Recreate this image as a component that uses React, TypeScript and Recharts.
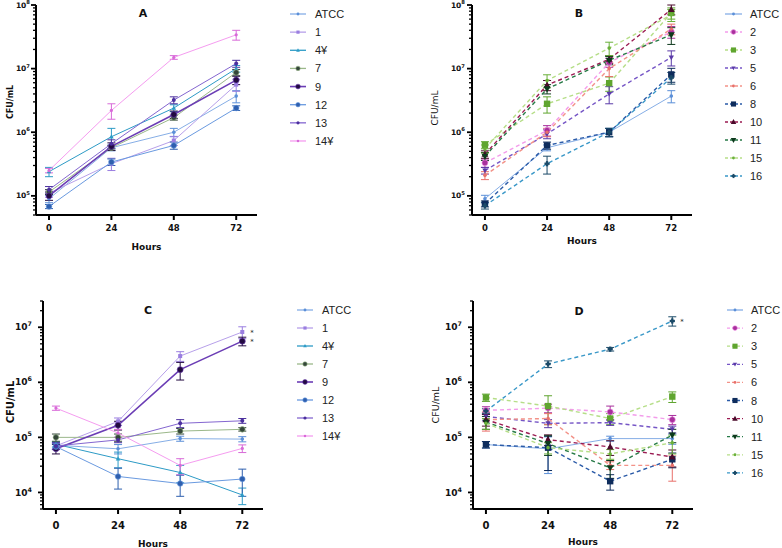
import React from 'react';
import { LineChart, Line, XAxis, YAxis, ErrorBar } from 'recharts';

const hours = [0, 24, 48, 72];

const strainsAC = ['ATCC', '1', '4¥', '7', '9', '12', '13', '14¥'];
const strainsBD = ['ATCC', '2', '3', '5', '6', '8', '10', '11', '15', '16'];

// CFU/mL at 0, 24, 48, 72 h, rows follow strainsAC / strainsBD
const cfuA = [
  [9.0e4, 5.7e5, 1.0e6, 3.7e6],
  [1.1e5, 3.2e5, 7.4e5, 5.6e6],
  [2.4e5, 8.5e5, 2.4e6, 1.0e7],
  [1.15e5, 5.7e5, 1.7e6, 8.7e6],
  [1.0e5, 6.0e5, 1.9e6, 6.6e6],
  [6.8e4, 3.4e5, 6.2e5, 2.4e6],
  [1.25e5, 6.6e5, 3.2e6, 1.2e7],
  [2.5e5, 2.2e6, 1.5e7, 3.4e7],
];
const sdA = [
  [1.2e4, 6e4, 1.5e5, 8e5],
  [1.5e4, 7e4, 1.2e5, 1.2e6],
  [4e4, 3e5, 3e5, 1.2e6],
  [1e4, 5e4, 1.5e5, 1e6],
  [1.5e4, 8e4, 2.5e5, 1e6],
  [5e3, 4e4, 8e4, 2e5],
  [1.5e4, 1e5, 4e5, 1.5e6],
  [2e4, 6e5, 1e6, 6e6],
];

const cfuB = [
  [9.0e4, 5.7e5, 1.0e6, 3.7e6],
  [3.3e5, 1.07e6, 1.25e7, 3.8e7],
  [6.3e5, 2.8e6, 5.9e6, 7.5e7],
  [2.5e5, 9.4e5, 4.0e6, 1.5e7],
  [2.1e5, 1.0e6, 1.0e7, 4.2e7],
  [7.5e4, 6.2e5, 1.0e6, 8.1e6],
  [4.5e5, 5.5e6, 1.4e7, 8.5e7],
  [4.2e5, 4.8e6, 1.35e7, 3.4e7],
  [5.5e5, 6.5e6, 2.1e7, 7.0e7],
  [7.0e4, 3.2e5, 1.0e6, 7.2e6],
];
const sdB = [
  [1.2e4, 6e4, 1.5e5, 8e5],
  [5e4, 2e5, 2e6, 8e6],
  [8e4, 8e5, 1.5e6, 1.5e7],
  [3e4, 1.5e5, 1.2e6, 4e6],
  [3e4, 1.5e5, 2.5e6, 8e6],
  [8e3, 8e4, 1.5e5, 2e6],
  [6e4, 1e6, 2e6, 1.5e7],
  [6e4, 8e5, 2e6, 1e7],
  [8e4, 1.5e6, 5e6, 1.5e7],
  [8e3, 1e5, 1.5e5, 1.5e6],
];

const cfuC = [
  [7.2e4, 6.2e4, 9.5e4, 9.3e4],
  [7.0e4, 1.95e5, 3.0e6, 8.2e6],
  [7.5e4, 4.1e4, 2.3e4, 9.0e3],
  [1.0e5, 1.0e5, 1.3e5, 1.4e5],
  [6.2e4, 1.66e5, 1.7e6, 5.6e6],
  [6.8e4, 1.95e4, 1.45e4, 1.75e4],
  [7.0e4, 9.0e4, 1.8e5, 2.0e5],
  [3.4e5, 1.2e5, 3.1e4, 6.3e4],
];
const sdC = [
  [8e3, 1.2e4, 1e4, 1e4],
  [8e3, 3e4, 6e5, 2e6],
  [8e3, 1.3e4, 8e3, 3e3],
  [1.5e4, 1.5e4, 1.5e4, 1e4],
  [1.2e4, 3e4, 6e5, 1e6],
  [8e3, 8e3, 6e3, 9e3],
  [1e4, 1e4, 3e4, 2e4],
  [3e4, 2e4, 1e4, 1e4],
];

const cfuD = [
  [7.4e4, 6.2e4, 9.5e4, 9.5e4],
  [3.1e5, 3.4e5, 2.9e5, 2.1e5],
  [5.3e5, 3.7e5, 2.2e5, 5.5e5],
  [2.4e5, 1.8e5, 1.85e5, 1.4e5],
  [2.1e5, 2.2e5, 3.1e4, 3.1e4],
  [7.4e4, 6.5e4, 1.6e4, 4.0e4],
  [2.1e5, 9.1e4, 6.7e4, 4.4e4],
  [1.9e5, 7.7e4, 2.8e4, 1.1e5],
  [1.8e5, 6.5e4, 5.0e4, 8.0e4],
  [3.0e5, 2.15e6, 4.0e6, 1.3e7],
];
const sdD = [
  [1e4, 4e4, 1e4, 2e4],
  [5e4, 6e4, 8e4, 4e4],
  [8e4, 2e5, 5e4, 1.2e5],
  [4e4, 3e4, 2e4, 2e4],
  [8e4, 5e4, 5e3, 1.5e4],
  [1e4, 4e4, 5e3, 1.2e4],
  [5e4, 2e4, 2e4, 1.5e4],
  [5e4, 3e4, 1e4, 3e4],
  [4e4, 1.5e4, 1e4, 3e4],
  [3e4, 3e5, 3e5, 2.5e6],
];

const starsC = ['1', '9'];
const starsD = ['16'];

const majorAB = [1e5, 1e6, 1e7, 1e8];
const majorCD = [1e4, 1e5, 1e6, 1e7];

type Mark = 'circle' | 'square' | 'up' | 'down' | 'dot' | 'star';
interface Look { stroke: string; fill: string; mark: Mark; size: number; dash?: string; width?: number }
const DASH = '4 3';

const looks: Record<string, Look> = {
  ATCC: { stroke: '#86aee6', fill: '#5b8fd8', mark: 'dot', size: 1.8 },
  '1': { stroke: '#b7a0ea', fill: '#9a7ee0', mark: 'square', size: 2 },
  '4¥': { stroke: '#2d9bc6', fill: '#2d9bc6', mark: 'up', size: 2 },
  '7': { stroke: '#9bb88a', fill: '#34463a', mark: 'circle', size: 2.8 },
  '9': { stroke: '#6b3db5', fill: '#220a40', mark: 'circle', size: 3, width: 1.6 },
  '12': { stroke: '#6a9ae0', fill: '#2e5fae', mark: 'circle', size: 2.8 },
  '13': { stroke: '#8466d0', fill: '#4b2f9e', mark: 'dot', size: 2 },
  '14¥': { stroke: '#f59cf0', fill: '#d86ad8', mark: 'dot', size: 1.6 },
  '2': { stroke: '#f39ceb', fill: '#a8309c', mark: 'circle', size: 3, dash: DASH },
  '3': { stroke: '#b6de88', fill: '#5fa52f', mark: 'square', size: 3.2, dash: DASH },
  '5': { stroke: '#7656c6', fill: '#5a3aa8', mark: 'down', size: 2.3, dash: DASH },
  '6': { stroke: '#f39288', fill: '#e8706a', mark: 'dot', size: 1.8, dash: DASH },
  '8': { stroke: '#2b5ba8', fill: '#0e2c5c', mark: 'square', size: 3.2, dash: DASH },
  '10': { stroke: '#9b1b52', fill: '#4a0a2a', mark: 'up', size: 3, dash: DASH },
  '11': { stroke: '#277a47', fill: '#0d3a1d', mark: 'down', size: 3, dash: DASH },
  '15': { stroke: '#b6de88', fill: '#6ab03a', mark: 'dot', size: 1.8, dash: DASH },
  '16': { stroke: '#3a98c8', fill: '#1b4a68', mark: 'star', size: 2.6, dash: DASH },
};

const FONT = '"DejaVu Sans", sans-serif';

function logTicks(lo: number, hi: number) {
  const out: number[] = [];
  for (let e = Math.floor(Math.log10(lo)); e <= Math.ceil(Math.log10(hi)); e++) {
    for (let m = 1; m < 10; m++) {
      const v = m * Math.pow(10, e);
      if (v >= lo * 0.999 && v <= hi * 1.001) out.push(v);
    }
  }
  return out;
}

function Marker({ cx, cy, look, scale = 1 }: { cx: number; cy: number; look: Look; scale?: number }) {
  const s = look.size * scale;
  switch (look.mark) {
    case 'square':
      return <rect x={cx - s} y={cy - s} width={2 * s} height={2 * s} fill={look.fill} />;
    case 'up':
      return <polygon points={`${cx},${cy - s * 1.2} ${cx - s * 1.15},${cy + s * 0.85} ${cx + s * 1.15},${cy + s * 0.85}`} fill={look.fill} />;
    case 'down':
      return <polygon points={`${cx},${cy + s * 1.2} ${cx - s * 1.15},${cy - s * 0.85} ${cx + s * 1.15},${cy - s * 0.85}`} fill={look.fill} />;
    case 'star':
      return (
        <g fill={look.fill}>
          <rect x={cx - s} y={cy - s * 0.45} width={2 * s} height={s * 0.9} />
          <rect x={cx - s * 0.45} y={cy - s} width={s * 0.9} height={2 * s} />
        </g>
      );
    case 'circle':
      return <circle cx={cx} cy={cy} r={s} fill={look.fill} stroke={look.stroke} strokeWidth={0.6} />;
    default:
      return <circle cx={cx} cy={cy} r={s} fill={look.fill} />;
  }
}

interface Panel {
  title: string;
  names: string[];
  cfu: number[][];
  sd: number[][];
  stars: string[];
  domain: [number, number];
  major: number[];
  left: number; top: number; width: number; height: number;
  plotLeft: number; plotRight: number; plotTop: number; plotBottom: number;
  titleX: number; titleY: number;
  yLabX: number; yLabY: number; yLabSize: number; yLabBold: boolean;
  yTickGap: number; yTickSize: number;
  xTickOff: number; xTickSize: number; hoursY: number;
  legX1: number; legX2: number; legText: number; legY: number; legStep: number;
}

const panels: Panel[] = [
  {
    title: 'A', names: strainsAC, cfu: cfuA, sd: sdA, stars: [], domain: [5e4, 1e8], major: majorAB,
    left: 0, top: 0, width: 280, height: 270,
    plotLeft: 36, plotRight: 257, plotTop: 5, plotBottom: 215,
    titleX: 143, titleY: 13, yLabX: 10, yLabY: 102, yLabSize: 8, yLabBold: true,
    yTickGap: 6, yTickSize: 7.5, xTickOff: 13, xTickSize: 8.5, hoursY: 247,
    legX1: 290, legX2: 306, legText: 315, legY: 14, legStep: 18.14,
  },
  {
    title: 'B', names: strainsBD, cfu: cfuB, sd: sdB, stars: [], domain: [5e4, 1e8], major: majorAB,
    left: 400, top: 0, width: 300, height: 270,
    plotLeft: 472, plotRight: 692, plotTop: 5, plotBottom: 215,
    titleX: 579, titleY: 13, yLabX: 435, yLabY: 108, yLabSize: 9, yLabBold: false,
    yTickGap: 7, yTickSize: 7.5, xTickOff: 13, xTickSize: 8.5, hoursY: 241,
    legX1: 725, legX2: 742, legText: 750, legY: 14, legStep: 18,
  },
  {
    title: 'C', names: strainsAC, cfu: cfuC, sd: sdC, stars: starsC, domain: [5e3, 3e7], major: majorCD,
    left: 0, top: 272, width: 280, height: 276,
    plotLeft: 43, plotRight: 263, plotTop: 301, plotBottom: 509,
    titleX: 148, titleY: 310, yLabX: 10, yLabY: 402, yLabSize: 10, yLabBold: true,
    yTickGap: 11, yTickSize: 9, xTickOff: 16, xTickSize: 10, hoursY: 544,
    legX1: 297, legX2: 313, legText: 322, legY: 310, legStep: 18,
  },
  {
    title: 'D', names: strainsBD, cfu: cfuD, sd: sdD, stars: starsD, domain: [5e3, 3e7], major: majorCD,
    left: 400, top: 272, width: 300, height: 276,
    plotLeft: 473, plotRight: 693, plotTop: 301, plotBottom: 509,
    titleX: 579, titleY: 311, yLabX: 435, yLabY: 405, yLabSize: 9.5, yLabBold: false,
    yTickGap: 11, yTickSize: 9, xTickOff: 16, xTickSize: 10, hoursY: 542,
    legX1: 727, legX2: 743, legText: 751, legY: 310, legStep: 18.1,
  },
];

function rowsFor(p: Panel) {
  return hours.map((h, i) => {
    const row: Record<string, number> = { hour: h };
    p.names.forEach((_, s) => {
      row[`s${s}`] = p.cfu[s][i];
      row[`s${s}_sd`] = p.sd[s][i];
    });
    return row;
  });
}

function PanelChart({ p }: { p: Panel }) {
  const xAxisH = 30;
  const yAxisW = 30;
  const margin = {
    top: p.plotTop - p.top,
    bottom: p.top + p.height - p.plotBottom - xAxisH,
    left: p.plotLeft - p.left - yAxisW,
    right: p.left + p.width - p.plotRight,
  };
  const yTicks = logTicks(p.domain[0], p.domain[1]);
  const majorSet = new Set(p.major);

  const yTick = (props: any) => {
    const { x, y, payload } = props;
    const v = payload.value as number;
    const major = majorSet.has(v);
    const exp = Math.round(Math.log10(v));
    return (
      <g key={`yt-${v}`}>
        <line x1={x} x2={x - (major ? 5 : 3)} y1={y} y2={y} stroke="#000" strokeWidth={major ? 1.8 : 1.3} />
        {major && (
          <text x={x - p.yTickGap} y={y + p.yTickSize * 0.35} textAnchor="end" fontFamily={FONT} fontWeight="bold" fontSize={p.yTickSize} fill="#111">
            <tspan>10</tspan>
            <tspan dy={-p.yTickSize * 0.45} fontSize={p.yTickSize * 0.7}>{exp}</tspan>
          </text>
        )}
      </g>
    );
  };

  const xTick = (props: any) => {
    const { x, y, payload } = props;
    return (
      <g key={`xt-${payload.value}`}>
        <line x1={x} x2={x} y1={y} y2={y + 5} stroke="#000" strokeWidth={2} />
        <text x={x} y={y + p.xTickOff} textAnchor="middle" dominantBaseline="central" fontFamily={FONT} fontWeight="bold" fontSize={p.xTickSize} fill="#111">
          {payload.value}
        </text>
      </g>
    );
  };

  return (
    <div style={{ position: 'absolute', left: p.left, top: p.top }}>
      <LineChart width={p.width} height={p.height} data={rowsFor(p)} margin={margin}>
        <XAxis
          dataKey="hour"
          type="number"
          domain={[-5, 80]}
          ticks={hours}
          interval={0}
          allowDataOverflow
          height={xAxisH}
          tickSize={0}
          tickMargin={0}
          tickLine={false}
          tick={xTick}
          axisLine={{ stroke: '#000', strokeWidth: 2 }}
          label={{
            content: () => (
              <text x={(p.plotLeft + p.plotRight) / 2 - p.left} y={p.hoursY - p.top} textAnchor="middle" dominantBaseline="central" fontFamily={FONT} fontWeight="bold" fontSize={9} fill="#111">
                Hours
              </text>
            ),
          }}
        />
        <YAxis
          type="number"
          scale="log"
          domain={p.domain}
          allowDataOverflow
          ticks={yTicks}
          interval={0}
          width={yAxisW}
          tickSize={0}
          tickMargin={0}
          tickLine={false}
          tick={yTick}
          axisLine={{ stroke: '#000', strokeWidth: 2 }}
          label={{
            content: () => (
              <text
                transform={`translate(${p.yLabX - p.left},${p.yLabY - p.top}) rotate(-90)`}
                textAnchor="middle"
                dominantBaseline="central"
                fontFamily={FONT}
                fontWeight={p.yLabBold ? 'bold' : 'normal'}
                fontSize={p.yLabSize}
                fill="#111"
              >
                CFU/mL
              </text>
            ),
          }}
        />
        {p.names.map((name, s) => {
          const look = looks[name];
          const key = `s${s}`;
          const starred = p.stars.includes(name);
          return (
            <Line
              key={key}
              dataKey={key}
              name={name}
              stroke={look.stroke}
              strokeWidth={look.width ?? (look.dash ? 1.4 : 1)}
              strokeDasharray={look.dash}
              activeDot={false}
              isAnimationActive={false}
              dot={(d: any) => (
                <g key={`${key}-${d.index}`}>
                  <Marker cx={d.cx} cy={d.cy} look={look} />
                  {starred && d.index === hours.length - 1 && (
                    <text x={d.cx + 8} y={d.cy + 3} fontSize={7} fontFamily={FONT} fill="#222">*</text>
                  )}
                </g>
              )}
            >
              <ErrorBar dataKey={`${key}_sd`} width={4} stroke={look.fill} strokeWidth={1} direction="y" />
            </Line>
          );
        })}
      </LineChart>
    </div>
  );
}

function Overlay() {
  return (
    <svg width={782} height={548} style={{ position: 'absolute', left: 0, top: 0, pointerEvents: 'none' }}>
      {panels.map((p) => (
        <g key={p.title}>
          <text x={p.titleX} y={p.titleY} textAnchor="middle" dominantBaseline="central" fontFamily={FONT} fontWeight="bold" fontSize={11} fill="#111">
            {p.title}
          </text>
          {p.names.map((name, i) => {
            const look = looks[name];
            const y = p.legY + i * p.legStep;
            return (
              <g key={name}>
                <line x1={p.legX1} x2={p.legX2} y1={y} y2={y} stroke={look.stroke} strokeWidth={look.width ?? 1.3} strokeDasharray={look.dash ? '3 2' : undefined} />
                <Marker cx={(p.legX1 + p.legX2) / 2} cy={y} look={look} scale={0.8} />
                <text x={p.legText} y={y + 4} fontFamily='"Liberation Sans", Arial, sans-serif' fontSize={11} fill="#222">
                  {name}
                </text>
              </g>
            );
          })}
        </g>
      ))}
    </svg>
  );
}

export default function App() {
  return (
    <div style={{ position: 'absolute', left: 0, top: 0, width: 782, height: 548, background: '#fff', overflow: 'hidden' }}>
      {panels.map((p) => (
        <PanelChart key={p.title} p={p} />
      ))}
      <Overlay />
    </div>
  );
}
